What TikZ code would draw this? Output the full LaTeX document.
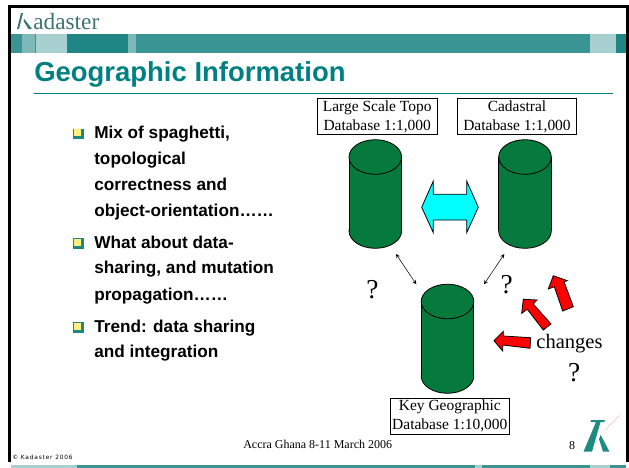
\documentclass[tikz,border=0pt]{standalone}
\usepackage{fontspec}
\setmainfont{Liberation Serif}
\setsansfont{Liberation Sans}
\newfontfamily\cprfont[LetterSpace=14]{DejaVu Sans}
\definecolor{teal1}{HTML}{3A9494}
\definecolor{teal2}{HTML}{1F8585}
\definecolor{teal3}{HTML}{7FB8B8}
\definecolor{teal4}{HTML}{A8D0D0}
\definecolor{titlec}{HTML}{008080}
\definecolor{logoc}{HTML}{3F7474}
\definecolor{biglogo}{HTML}{1F8A80}
\definecolor{dbgreen}{HTML}{067A3C}
\definecolor{aqua}{HTML}{00FFFF}
\definecolor{redfill}{HTML}{FF0000}
\definecolor{bulletyellow}{HTML}{FFF080}
\tikzset{
  px/.style={x=0.75pt,y=-0.75pt},
  labelbox/.style={draw=black,line width=0.6pt,fill=white,minimum width=89.7pt,minimum height=27.3pt,inner sep=0pt,align=center,font=\fontsize{11.6}{14.2}\selectfont},
  bullettext/.style={anchor=base west,inner sep=0pt,font=\sffamily\bfseries\fontsize{12.9}{15}\selectfont},
  plain/.style={inner sep=0pt,font=\fontsize{20.5}{21}\selectfont},
  foot/.style={inner sep=0pt,font=\fontsize{9}{10}\selectfont},
  cylpart/.style={draw=black,line width=0.6pt,fill=dbgreen},
  redarrow/.style={draw=black,line width=0.6pt,fill=redfill},
  dbl/.style={line width=0.4pt,<->,>=stealth},
}
\newcommand{\dbcylinder}[3]{% cx, top ellipse cy, bottom ellipse cy
  \path[cylpart] (#1,#3) ellipse[x radius=26.3,y radius=17.3];
  \fill[dbgreen] (#1-26.3,#2) rectangle (#1+26.3,#3);
  \draw[line width=0.6pt] (#1-26.3,#2) -- (#1-26.3,#3) (#1+26.3,#2) -- (#1+26.3,#3);
  \path[cylpart] (#1,#2) ellipse[x radius=26.3,y radius=17.3];
}
\newcommand{\bulletmark}[1]{%
  \fill[teal2] (72.5,#1-5) rectangle (83.5,#1+5.5);
  \fill[bulletyellow] (74,#1-4.2) rectangle (81.2,#1+2.8);
}
\begin{document}
\begin{tikzpicture}[px]
\useasboundingbox (0,0) rectangle (629,468);
\fill[white] (0,0) rectangle (629,468);
% frame
\fill[black] (8,5) rectangle (629,8.3);
\fill[black] (8,5) rectangle (10.7,462);
\fill[black] (625.5,5) rectangle (628.7,462);
% top band
\fill[teal1] (10.7,34.3) rectangle (625.5,52.7);
\fill[teal3] (22,34.3) rectangle (34.5,52.7);
\fill[teal4] (35.5,34.3) rectangle (67,52.7);
\fill[teal2] (67,34.3) rectangle (128,52.7);
\fill[teal3] (128,34.3) rectangle (136,52.7);
\fill[teal4] (590,34.3) rectangle (616,52.7);
\fill[teal2] (616,34.3) rectangle (625.5,52.7);
% bottom band
\fill[teal1] (10.7,465) rectangle (625.5,468);
\fill[teal4] (11,465) rectangle (77,468);
\fill[teal4] (475,465) rectangle (482,468);
\fill[teal4] (590,465) rectangle (610,468);
% small logo
\fill[logoc] (21,13) -- (23,13) -- (19,29) -- (17,29) -- cycle;
\fill[logoc] (24.3,19) -- (32,29) -- (28.5,29) -- (23.5,21) -- cycle;
\node[anchor=base west,inner sep=0pt,text=logoc,font=\fontsize{17.5}{18}\selectfont] (logo) at (33,29.5) {adaster};
% title
\node[anchor=base west,inner sep=0pt,text=titlec,font=\sffamily\bfseries\fontsize{20.6}{22}\selectfont] (title) at (34,81) {Geographic Information};
\draw[titlec,line width=0.7pt] (33.5,93.5) -- (612.7,93.5);
% bullets
\bulletmark{133.5}
\node[bullettext] (b1a) at (94,138.5) {Mix of spaghetti,};
\node[bullettext] (b1b) at (94,164.5) {topological};
\node[bullettext] (b1c) at (94,190) {correctness and};
\node[bullettext] (b1d) at (94,216) {object-orientation……};
\bulletmark{243}
\node[bullettext] (b2a) at (94,248.5) {What about data-};
\node[bullettext] (b2b) at (94,273.5) {sharing, and mutation};
\node[bullettext] (b2c) at (94,300) {propagation……};
\bulletmark{327}
\node[bullettext] (b3a) at (94,332) {Trend: data sharing};
\node[bullettext] (b3b) at (94,357) {and integration};
% cylinders
\dbcylinder{375.3}{157}{231}
\dbcylinder{525}{157}{231}
\dbcylinder{447.5}{301.5}{376}
\coordinate (topoS) at (396,254);
\coordinate (keyL) at (416.3,284.3);
\coordinate (cadS) at (504.3,254);
\coordinate (keyR) at (484,284.3);
\draw[dbl] (topoS) -- (keyL);
\draw[dbl] (cadS) -- (keyR);
% label boxes
\node[labelbox] (topo) at (377.2,116.5) {Large Scale Topo\\Database 1:1,000};
\node[labelbox] (cad) at (517,116.5) {Cadastral\\Database 1:1,000};
\node[labelbox] (key) at (449.8,416.2) {Key Geographic\\Database 1:10,000};
% cyan arrow
\draw[line width=0.6pt,fill=aqua] (421.7,207.3) -- (433.3,181) -- (433.3,194.3) -- (466.7,194.3) -- (466.7,181) -- (478.3,207.3) -- (466.7,232.7) -- (466.7,220) -- (433.3,220) -- (433.3,232.7) -- cycle;
% red arrows
\draw[redarrow] (494,340.7) -- (503.3,331.3) -- (503.3,336) -- (530.7,337.7) -- (530,348.3) -- (502.7,345) -- (502.7,351) -- cycle;
\draw[redarrow] (523.3,299.3) -- (537,300) -- (533.3,304) -- (551,324) -- (543.3,330) -- (527.3,309.3) -- (521.7,313.3) -- cycle;
\draw[redarrow] (553.3,275.7) -- (567.3,280.7) -- (564,281.7) -- (573.3,306.7) -- (562.7,311) -- (554.3,286.7) -- (548.3,289) -- cycle;
% questions
\node[plain] (q1) at (372.5,290) {?};
\node[plain] (q2) at (506.7,285) {?};
\node[plain] (q3) at (574.3,373) {?};
\node[inner sep=0pt,font=\fontsize{15.4}{16}\selectfont,anchor=base] (chg) at (569.5,348.3) {changes};
% footer
\node[foot,anchor=base west] (acc) at (243,448.3) {Accra Ghana 8-11 March 2006};
\node[foot,anchor=base] (pg) at (572,449) {8};
\node[anchor=base west,inner sep=0pt,font=\cprfont\fontsize{4.4}{6}\selectfont] (cpr) at (12,459) {© Kadaster 2006};
% big logo
\draw[red!25!white,line width=0.4pt] (605,430) -- (620,415);
\fill[biglogo] (591,420) -- (605,420) -- (604.3,422) -- (600.5,422) -- (592,451.7) -- (583.5,451.7) -- (596,422) -- (590.5,422) -- cycle;
\fill[biglogo] (600.7,435) -- (609.5,451.7) -- (603,451.7) -- (599,439) -- cycle;
\end{tikzpicture}
\end{document}
